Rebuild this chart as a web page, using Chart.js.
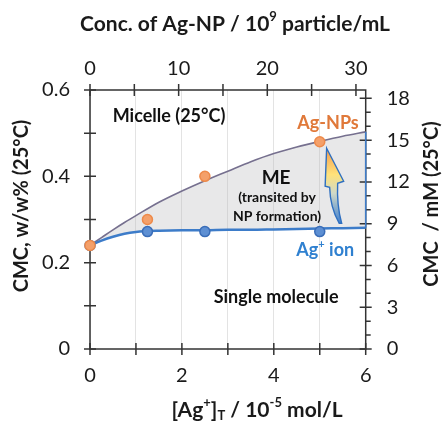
<!DOCTYPE html>
<html><head><meta charset="utf-8">
<script src="https://cdn.jsdelivr.net/npm/chart.js@4/dist/chart.umd.min.js"></script>
<style>html,body{margin:0;padding:0;background:#fff}#wrap{width:443px;height:421px;position:relative}</style>
</head><body><div id="wrap"><canvas id="c"></canvas></div>
<script>
// ---- data ----
const agConc = [0, 1.25, 2.5, 5.0];                 // [Ag+]T / 1e-5 mol/L
const cmcAgNPs = [0.24, 0.30, 0.40, 0.48];          // CMC w/w%
const cmcAgIon = [0.24, 0.272, 0.272, 0.272];
const fitX = [0, 0.25, 0.5, 0.75, 1, 1.5, 2, 2.5, 3, 3.5, 4, 4.5, 5, 5.5, 6];
const fitAgNPs = [0.240, 0.258, 0.276, 0.293, 0.309, 0.340, 0.366, 0.390, 0.412, 0.434, 0.453, 0.468, 0.481, 0.493, 0.503];
const fitAgIon = [0.240, 0.251, 0.260, 0.267, 0.271, 0.274, 0.275, 0.275, 0.276, 0.276, 0.277, 0.278, 0.279, 0.280, 0.281];
const bottomTicks = [0, 1, 2, 3, 4, 5, 6];
const bottomLabels = [0, 2, 4, 6];
const topTicks = [0, 5, 10, 15, 20, 25, 30];
const topLabels = [0, 10, 20, 30];
const topMax = 31.1;
const leftTicks = [0, 0.1, 0.2, 0.3, 0.4, 0.5, 0.6];
const leftLabels = [0, 0.2, 0.4, 0.6];
const rightTicks = [0,1,2,3,4,5,6,7,8,9,10,11,12,13,14,15,16,17,18];
const rightLabels = [0, 3, 6, 9, 12, 15, 18];
const rightMax = 18.6;
const arrowTip = {x: 5.15, y: 0.465};

const FONT = 'Lato';
const TXT = '#1a1a1a';

function seg(t, k) { return {t: t, k: k || ''}; }
function drawRich(ctx, segs, cx, cy, size, color, weight) {
  weight = weight || 'bold';
  let total = 0;
  const small = Math.round(size * 0.62);
  segs.forEach(s => {
    ctx.font = weight + ' ' + (s.k ? small : size) + 'px ' + FONT;
    s.w = ctx.measureText(s.t).width; total += s.w;
  });
  let x = cx - total / 2;
  ctx.fillStyle = color; ctx.textBaseline = 'middle'; ctx.textAlign = 'left';
  segs.forEach(s => {
    ctx.font = weight + ' ' + (s.k ? small : size) + 'px ' + FONT;
    let dy = s.k === 'sup' ? -size * 0.33 : (s.k === 'sub' ? size * 0.3 : 0);
    ctx.fillText(s.t, x, cy + dy);
    x += s.w;
  });
}

const decor = {
  id: 'decor',
  beforeDatasetsDraw(chart) {
    const {ctx, chartArea: a, scales} = chart;
    ctx.save();
    ctx.strokeStyle = '#333'; ctx.lineWidth = 1.5;
    ctx.strokeRect(a.left, a.top, a.right - a.left, a.bottom - a.top);
    ctx.beginPath();
    const L = 6;
    bottomTicks.forEach(v => { const p = scales.x.getPixelForValue(v); ctx.moveTo(p, a.bottom - L); ctx.lineTo(p, a.bottom + L); });
    topTicks.forEach(v => { const p = scales.x2.getPixelForValue(v); ctx.moveTo(p, a.top - L); ctx.lineTo(p, a.top + L); });
    leftTicks.forEach(v => { const p = scales.y.getPixelForValue(v); ctx.moveTo(a.left - L, p); ctx.lineTo(a.left + L, p); });
    rightTicks.forEach(v => { const p = scales.y2.getPixelForValue(v);
      if (rightLabels.includes(v)) { ctx.moveTo(a.right - L, p); ctx.lineTo(a.right + L, p); }
      else { ctx.moveTo(a.right, p); ctx.lineTo(a.right + 5, p); } });
    ctx.stroke();
    ctx.restore();
  },
  afterDatasetsDraw(chart) {
    const {ctx, scales} = chart;
    const X = v => scales.x.getPixelForValue(v), Y = v => scales.y.getPixelForValue(v);
    ctx.save();
    // blue closing edge of the ME region at x = 6
    const n = fitX.length - 1;
    ctx.strokeStyle = '#3d7cc9'; ctx.lineWidth = 1.5;
    ctx.beginPath(); ctx.moveTo(X(fitX[n]), Y(fitAgIon[n])); ctx.lineTo(X(fitX[n]), Y(fitAgNPs[n])); ctx.stroke();
    // curved arrow
    const tx = X(arrowTip.x), ty = Y(arrowTip.y);
    const g = ctx.createLinearGradient(0, ty, 0, ty + 75);
    g.addColorStop(0, '#f39a4e'); g.addColorStop(0.35, '#ffe27a'); g.addColorStop(0.6, '#cfd9c8'); g.addColorStop(1, '#3f7fcf');
    ctx.beginPath();
    ctx.moveTo(tx, ty);
    ctx.lineTo(tx + 17, ty + 33);
    ctx.lineTo(tx + 11, ty + 35);
    ctx.quadraticCurveTo(tx + 10, ty + 57, tx + 15, ty + 75);
    ctx.lineTo(tx + 12.5, ty + 75);
    ctx.quadraticCurveTo(tx + 3.5, ty + 59, tx + 3, ty + 39);
    ctx.lineTo(tx - 1.5, ty + 38);
    ctx.closePath();
    ctx.fillStyle = g; ctx.fill();
    ctx.strokeStyle = '#2e6fc0'; ctx.lineWidth = 1.4; ctx.stroke();
    // region labels
    drawRich(ctx, [seg('Micelle (25°C)')], X(1.72), Y(0.540), 18, '#111');
    drawRich(ctx, [seg('Ag-NPs')], X(5.18), Y(0.524), 18, '#e0793a');
    drawRich(ctx, [seg('ME')], X(4.05), Y(0.396), 19, '#111');
    drawRich(ctx, [seg('(transited by')], X(4.07), Y(0.350), 14, '#111');
    drawRich(ctx, [seg('NP formation)')], X(4.07), Y(0.306), 14, '#111');
    drawRich(ctx, [seg('Ag'), seg('+', 'sup'), seg(' ion')], X(5.12), Y(0.229), 18, '#2f80d0');
    drawRich(ctx, [seg('Single molecule')], X(4.05), Y(0.120), 18, '#111');
    ctx.restore();
  },
  afterDraw(chart) {
    const {ctx} = chart;
    ctx.save();
    drawRich(ctx, [seg('Conc. of Ag-NP / 10'), seg('9', 'sup'), seg(' particle/mL')], 235, 24, 21, TXT);
    drawRich(ctx, [seg('[Ag'), seg('+', 'sup'), seg(']'), seg('T', 'sub'), seg(' / 10'), seg('-5', 'sup'), seg(' mol/L')], 257, 410, 21, TXT);
    ctx.save(); ctx.translate(22, 206); ctx.rotate(-Math.PI / 2);
    drawRich(ctx, [seg('CMC, w/w% (25°C)')], 0, 0, 20, TXT); ctx.restore();
    ctx.save(); ctx.translate(432, 204); ctx.rotate(-Math.PI / 2);
    drawRich(ctx, [seg('CMC  / mM (25°C)')], 0, 0, 20, TXT); ctx.restore();
    ctx.restore();
  }
};

const tickFont = {family: FONT, size: 20};
const ds = [
  {data: fitX.map((x, i) => ({x, y: fitAgNPs[i]})), borderColor: '#76708f', borderWidth: 1.6, pointRadius: 0,
   fill: 1, backgroundColor: 'rgba(185,185,188,0.33)', cubicInterpolationMode: 'monotone', order: 3, clip: false},
  {data: fitX.map((x, i) => ({x, y: fitAgIon[i]})), borderColor: '#3d7cc9', borderWidth: 2.5, pointRadius: 0,
   fill: false, cubicInterpolationMode: 'monotone', order: 2, clip: false},
  {data: agConc.map((x, i) => ({x, y: cmcAgIon[i]})), showLine: false, pointRadius: 5, pointBackgroundColor: '#5d8fd3',
   pointBorderColor: '#3a6db8', pointBorderWidth: 1.5, order: 1, clip: false},
  {data: agConc.map((x, i) => ({x, y: cmcAgNPs[i]})), showLine: false, pointRadius: 5, pointBackgroundColor: '#f4a06a',
   pointBorderColor: '#ee8a4a', pointBorderWidth: 1.5, order: 0, clip: false}
];

new Chart(document.getElementById('c'), {
  type: 'line',
  data: {datasets: ds},
  options: {
    responsive: true, maintainAspectRatio: false, animation: false,
    layout: {padding: 0},
    plugins: {legend: {display: false}, tooltip: {enabled: false}, filler: {drawTime: 'beforeDatasetsDraw'}},
    scales: {
      x: {type: 'linear', position: 'bottom', min: 0, max: 6,
          afterBuildTicks: s => { s.ticks = bottomTicks.map(v => ({value: v})); },
          afterFit: s => { s.height = 72; },
          ticks: {font: tickFont, color: TXT, padding: 15, maxRotation: 0, autoSkip: false,
                  callback: v => bottomLabels.includes(v) ? String(v) : ''},
          grid: {display: true, color: '#e3e3e3', drawTicks: false}, border: {display: false}},
      x2: {type: 'linear', position: 'top', min: 0, max: topMax,
          afterBuildTicks: s => { s.ticks = topTicks.map(v => ({value: v})); },
          afterFit: s => { s.height = 90; },
          ticks: {font: tickFont, color: TXT, padding: 9, maxRotation: 0, autoSkip: false,
                  callback: v => topLabels.includes(v) ? String(v) : ''},
          grid: {display: false, drawTicks: false}, border: {display: false}},
      y: {type: 'linear', position: 'left', min: 0, max: 0.6,
          afterBuildTicks: s => { s.ticks = leftTicks.map(v => ({value: v})); },
          afterFit: s => { s.width = 90; },
          ticks: {font: tickFont, color: TXT, padding: 20, autoSkip: false,
                  callback: v => leftLabels.includes(v) ? String(v) : ''},
          grid: {display: false, drawTicks: false}, border: {display: false}},
      y2: {type: 'linear', position: 'right', min: 0, max: rightMax,
          afterBuildTicks: s => { s.ticks = rightTicks.map(v => ({value: v})); },
          afterFit: s => { s.width = 77.3; },
          ticks: {font: tickFont, color: TXT, padding: 21, autoSkip: false,
                  callback: v => rightLabels.includes(v) ? String(v) : ''},
          grid: {display: false, drawTicks: false}, border: {display: false}}
    }
  },
  plugins: [decor]
});
</script>
</body></html>
